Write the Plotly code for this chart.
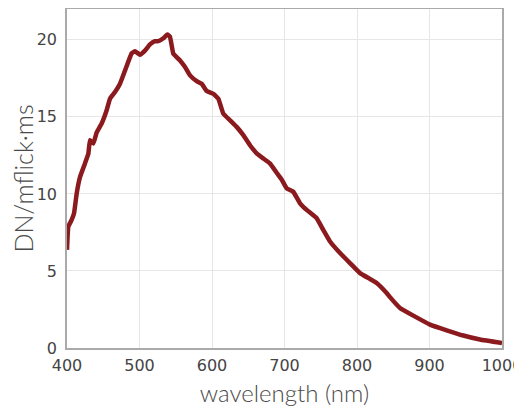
import plotly.graph_objects as go

wavelength = [400, 401.8, 406.4, 409.7, 413.4, 418, 424.8, 429.4, 431.7, 436.3, 441, 447.8,
              454.7, 459.3, 466.2, 473.1, 480, 489.2, 493.8, 500.7, 507.6, 514.5, 521.4, 526,
              532.9, 538.4, 542, 546.6, 549, 555.9, 562.8, 569.7, 578.9, 585.8, 592.7, 601.8,
              608.7, 615.6, 624.8, 634, 643.2, 652.4, 661.6, 670.7, 679.9, 689.2, 696, 703,
              712.1, 721.4, 730.6, 744.4, 753.5, 762.8, 776.6, 790.3, 804.1, 817.9, 827.1,
              840.9, 845.5, 859.3, 877.7, 900.7, 923.7, 946.6, 969.7, 1000]
response = [6.37, 7.88, 8.31, 8.74, 10.04, 11.1, 11.98, 12.6, 13.49, 13.27, 14.0, 14.57,
            15.43, 16.18, 16.61, 17.15, 18.0, 19.13, 19.26, 19.03, 19.3, 19.7, 19.91, 19.91,
            20.1, 20.34, 20.2, 19.1, 18.98, 18.66, 18.23, 17.69, 17.32, 17.15, 16.68, 16.5,
            16.18, 15.21, 14.78, 14.35, 13.81, 13.16, 12.63, 12.3, 11.98, 11.37, 10.94, 10.36,
            10.14, 9.39, 8.96, 8.42, 7.66, 6.91, 6.16, 5.51, 4.86, 4.48, 4.22,
            3.57, 3.3, 2.6, 2.1, 1.52, 1.15, 0.81, 0.55, 0.32]

x_ticks = [400, 500, 600, 700, 800, 900, 1000]
y_ticks = [0, 5, 10, 15, 20]

fig = go.Figure()
fig.add_trace(go.Scatter(x=wavelength, y=response, mode="lines",
                         line=dict(color="#8b1a1e", width=4.5, shape="spline", smoothing=0.3),
                         showlegend=False))

axis_common = dict(showline=True, linecolor="#aaaaaa", linewidth=1.5, mirror=True,
                   showgrid=True, gridcolor="#e6e6e6", gridwidth=1, zeroline=False,
                   ticks="", automargin=False,
                   tickfont=dict(family="DejaVu Sans", size=16, color="#444444"))

# the page body has an 8px default margin; margins below compensate for it
fig.update_layout(
    width=522, height=411,
    margin=dict(l=59, r=28, t=1, b=71),
    paper_bgcolor="white", plot_bgcolor="white",
    xaxis=dict(range=[400, 1000], tickvals=x_ticks, ticklabelstandoff=2,
               title=dict(text="wavelength (nm)",
                          font=dict(family="Lato", size=24, color="#4a4a4a", weight=300),
                          standoff=11),
               **axis_common),
    yaxis=dict(range=[0, 22], tickvals=y_ticks, ticklabelstandoff=5,
               title=dict(text="DN/mflick·ms",
                          font=dict(family="Lato", size=25, color="#4a4a4a", weight=300),
                          standoff=1),
               **axis_common),
)

fig.write_html("out.html")
